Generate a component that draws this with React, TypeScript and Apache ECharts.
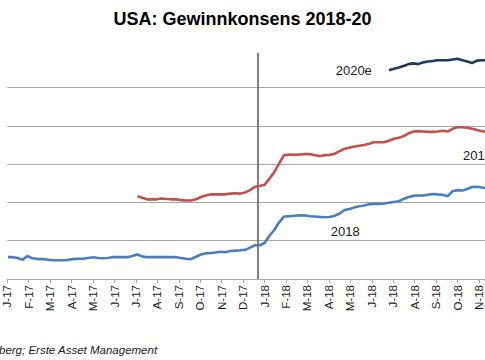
import React, { useEffect, useRef } from "react";
import * as echarts from "echarts";

const TITLE = "USA: Gewinnkonsens 2018-20";
const SOURCE = "berg; Erste Asset Management";
const MONTH_LETTERS = ["J", "F", "M", "A", "M", "J", "J", "A", "S", "O", "N", "D"];
const FIRST_YEAR = 2017;
const START_DATE = "2017-01-02"; // first weekly observation
const TAX_REFORM_DATE = "2017-12-22";

// weekly consensus values (week index 0 = START_DATE)
const EPS_2018 = [
  145.7, 145.7, 145.5, 145.0, 146.0, 145.4, 145.2, 145.2, 145.0, 144.9,
  144.9, 144.9, 145.0, 145.2, 145.3, 145.3, 145.5, 145.7, 145.5, 145.4,
  145.5, 145.7, 145.7, 145.7, 145.7, 146.0, 146.4, 145.9, 145.7, 145.7,
  145.7, 145.7, 145.7, 145.7, 145.7, 145.5, 145.3, 145.2, 145.8, 146.4,
  146.7, 146.8, 146.9, 147.1, 147.0, 147.3, 147.4, 147.5, 147.6, 148.2,
  148.8, 148.8, 149.4, 151.3, 152.8, 154.8, 156.3, 156.4, 156.5, 156.6,
  156.6, 156.4, 156.3, 156.2, 156.1, 156.2, 156.5, 157.1, 158.0, 158.3,
  158.7, 159.0, 159.2, 159.5, 159.6, 159.6, 159.7, 159.9, 160.1, 160.3,
  160.9, 161.4, 161.7, 161.8, 161.8, 162.0, 162.2, 162.1, 162.0, 161.6,
  162.9, 163.2, 163.1, 163.5, 164.0, 164.1, 163.9, 163.7, 163.6, 163.5,
];
const EPS_2019_START_WEEK = 26;
const EPS_2019 = [
  161.6, 161.2, 160.8, 160.8, 160.8, 161.0, 160.9, 160.8, 160.8, 160.6,
  160.5, 160.5, 160.8, 161.4, 161.8, 162.1, 162.1, 162.1, 162.1, 162.3,
  162.4, 162.3, 162.6, 163.2, 164.1, 164.3, 164.6, 166.2, 167.9, 170.2,
  172.3, 172.5, 172.4, 172.5, 172.6, 172.6, 172.3, 172.1, 172.3, 172.4,
  172.7, 173.4, 174.0, 174.3, 174.6, 174.8, 175.0, 175.3, 175.7, 175.7,
  175.7, 176.1, 176.6, 176.9, 177.3, 178.0, 178.5, 178.6, 178.5, 178.4,
  178.4, 178.5, 178.7, 178.5, 179.2, 179.6, 179.6, 179.5, 179.2, 178.9,
  178.6, 178.4, 178.2, 178.1,
];
const EPS_2020_START_WEEK = 77;
const EPS_2020 = [
  194.5, 194.9, 195.2, 195.6, 196.1, 196.3, 196.1, 196.5, 196.8, 196.9,
  197.1, 197.1, 197.1, 197.3, 197.5, 197.1, 196.8, 196.4, 197.0, 197.1,
  197.1, 197.0, 197.0,
];
const GRID_VALUES = [150, 160, 170, 180, 190];
const Y_MIN = 140;
const Y_MAX = 199;
const X_MONTHS = 24;

const SERIES_NAMES = ["2018", "2019e", "2020e"];
const LABEL_TEXTS = ["2018", "201", "2020e"]; // as visible in the cropped picture
const SERIES_COLORS = ["#4a7ebf", "#c0504d", "#1f3a60"];

function monthPos(d: Date): number {
  const y = d.getUTCFullYear();
  const mo = d.getUTCMonth();
  const day = d.getUTCDate();
  const dim = new Date(Date.UTC(y, mo + 1, 0)).getUTCDate();
  return (y - FIRST_YEAR) * 12 + mo + (day - 1) / dim;
}

function weekDate(week: number): Date {
  const d = new Date(START_DATE + "T00:00:00Z");
  d.setUTCDate(d.getUTCDate() + week * 7);
  return d;
}

function toData(values: number[], startWeek: number) {
  return values.map((v, k) => [monthPos(weekDate(startWeek + k)), v]);
}

export default function App() {
  const ref = useRef<HTMLDivElement>(null);
  useEffect(() => {
    if (!ref.current) return;
    const chart = echarts.init(ref.current, null, { renderer: "svg" });
    const font = "'Liberation Sans', Arial, sans-serif";
    const lineSeries = [
      toData(EPS_2018, 0),
      toData(EPS_2019, EPS_2019_START_WEEK),
      toData(EPS_2020, EPS_2020_START_WEEK),
    ].map((data, i) => ({
      name: SERIES_NAMES[i],
      type: "line",
      data,
      showSymbol: false,
      symbol: "none",
      z: 3,
      lineStyle: { color: SERIES_COLORS[i], width: 2.6 },
      itemStyle: { color: SERIES_COLORS[i] },
    }));
    chart.setOption({
      animation: false,
      backgroundColor: "#ffffff",
      grid: { left: 7.3, top: 53, width: 514.6, height: 226, outerBoundsMode: "none", containLabel: false },
      xAxis: {
        type: "value",
        min: 0,
        max: X_MONTHS,
        interval: 1,
        axisLine: { show: true, lineStyle: { color: "#a6a6a6", width: 1 } },
        axisTick: { show: true, length: 4, lineStyle: { color: "#a6a6a6" } },
        splitLine: { show: false },
        axisLabel: {
          rotate: 90,
          margin: 6,
          fontSize: 11.5,
          fontFamily: font,
          color: "#1a1a1a",
          formatter: (v: number) => {
            const m = Math.round(v);
            const yy = (FIRST_YEAR + Math.floor(m / 12)) % 100;
            return MONTH_LETTERS[m % 12] + "-" + yy;
          },
        },
      },
      yAxis: {
        type: "value",
        min: Y_MIN,
        max: Y_MAX,
        axisLine: { show: false },
        axisTick: { show: false },
        axisLabel: { show: false },
        splitLine: { show: false },
      },
      series: [
        {
          name: "grid",
          type: "line",
          data: [],
          z: 1,
          silent: true,
          markLine: {
            z: 1,
            silent: true,
            symbol: "none",
            label: { show: false },
            lineStyle: { color: "#a6a6a6", width: 1, type: "solid" },
            data: GRID_VALUES.map((v) => ({ yAxis: v })),
          },
        },
        {
          name: "marker",
          type: "line",
          data: [],
          z: 2,
          silent: true,
          markLine: {
            z: 2,
            silent: true,
            symbol: "none",
            label: { show: false },
            lineStyle: { color: "#5f5f5f", width: 1.6, type: "solid" },
            data: [{ xAxis: monthPos(new Date(TAX_REFORM_DATE + "T00:00:00Z")) }],
          },
        },
        ...lineSeries,
      ],
      graphic: [
        {
          type: "text",
          x: 242.5,
          y: 18.5,
          style: {
            text: TITLE,
            align: "center",
            verticalAlign: "middle",
            font: "bold 18px " + font,
            fill: "#000000",
          },
        },
        {
          type: "text",
          x: 335.7,
          y: 70.5,
          style: { text: LABEL_TEXTS[2], verticalAlign: "middle", font: "13px " + font, fill: "#1a1a1a" },
        },
        {
          type: "text",
          x: 463,
          y: 155,
          style: { text: LABEL_TEXTS[1], verticalAlign: "middle", font: "13px " + font, fill: "#1a1a1a" },
        },
        {
          type: "text",
          x: 330.7,
          y: 231.3,
          style: { text: LABEL_TEXTS[0], verticalAlign: "middle", font: "13px " + font, fill: "#1a1a1a" },
        },
        {
          type: "text",
          x: -1,
          y: 350,
          style: { text: SOURCE, verticalAlign: "middle", font: "italic 11.5px " + font, fill: "#1a1a1a" },
        },
      ],
    });
    return () => chart.dispose();
  }, []);
  return (
    <div
      ref={ref}
      style={{ width: 485, height: 360, position: "fixed", left: 0, top: 0, background: "#fff" }}
    />
  );
}
